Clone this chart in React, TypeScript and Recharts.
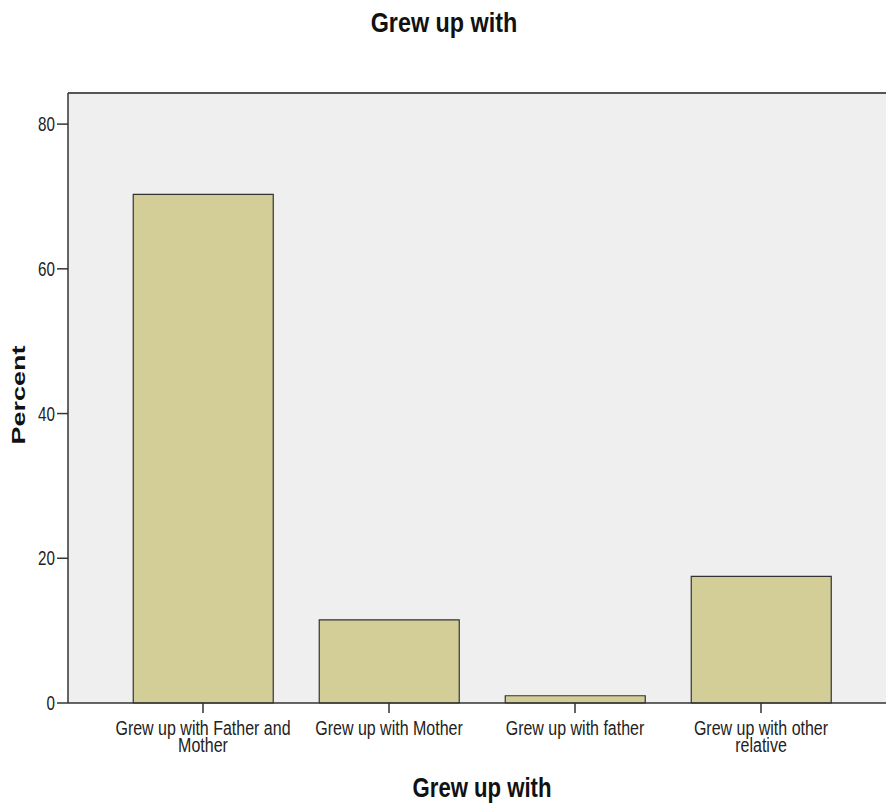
import React from "react";
import { BarChart, Bar, XAxis, YAxis, CartesianGrid, ReferenceLine } from "recharts";

const categories = [
  "Grew up with Father and Mother",
  "Grew up with Mother",
  "Grew up with father",
  "Grew up with other relative",
];
const percentValues = [70.3, 11.5, 1.0, 17.5];
const yTicks = [0, 20, 40, 60, 80];
const Y_MAX = 84.3;

const data = categories.map((c, i) => ({ name: c, percent: percentValues[i] }));

const SANS = "'Liberation Sans', Arial, sans-serif";
const SQUEEZE = 0.82;
const TICK_FONT = 19.5;
const WRAP_WIDTH = 184;

let ctx: CanvasRenderingContext2D | null = null;
function measure(s: string, size: number) {
  if (!ctx) {
    const c = document.createElement("canvas");
    ctx = c.getContext("2d");
  }
  if (!ctx) return s.length * size * 0.5;
  ctx.font = `${size}px 'Liberation Sans', Arial, sans-serif`;
  return ctx.measureText(s).width;
}

function wrap(text: string, size: number, maxW: number) {
  const words = text.split(" ");
  const lines: string[] = [];
  let cur = "";
  for (const w of words) {
    const next = cur ? cur + " " + w : w;
    if (cur && measure(next, size) * SQUEEZE > maxW) {
      lines.push(cur);
      cur = w;
    } else {
      cur = next;
    }
  }
  if (cur) lines.push(cur);
  return lines;
}

const XTick = (props: any) => {
  const { x, y, payload } = props;
  const lines = wrap(String(payload.value), TICK_FONT, WRAP_WIDTH);
  return (
    <text
      transform={`translate(${x},${y + 20}) scale(${SQUEEZE},1)`}
      textAnchor="middle"
      fill="#222"
      style={{ fontFamily: SANS, fontSize: TICK_FONT }}
    >
      {lines.map((l, i) => (
        <tspan key={i} x={0} y={i * 17}>
          {l}
        </tspan>
      ))}
    </text>
  );
};

const YTick = (props: any) => {
  const { x, y, payload } = props;
  return (
    <text
      transform={`translate(${x},${y + 7}) scale(0.76,1)`}
      textAnchor="end"
      fill="#222"
      style={{ fontFamily: SANS, fontSize: 20 }}
    >
      {payload.value}
    </text>
  );
};

export default function App() {
  return (
    <div style={{ position: "absolute", left: 0, top: 0, width: 886, height: 809, background: "#fff" }}>
      <BarChart
        width={886}
        height={809}
        data={data}
        margin={{ top: 93, right: 0, bottom: 0, left: 0 }}
        barCategoryGap="12.5%"
      >
        <CartesianGrid fill="#efefef" stroke="none" horizontal={false} vertical={false} />
        <XAxis
          dataKey="name"
          height={106}
          padding={{ left: 42, right: 32 }}
          interval={0}
          tickSize={10}
          tickLine={{ stroke: "#333", strokeWidth: 1.5 }}
          axisLine={{ stroke: "#333", strokeWidth: 1.5 }}
          tick={<XTick />}
        />
        <YAxis
          width={68}
          domain={[0, Y_MAX]}
          ticks={yTicks}
          tickSize={11}
          tickLine={{ stroke: "#333", strokeWidth: 1.5 }}
          axisLine={{ stroke: "#333", strokeWidth: 1.5 }}
          tick={<YTick />}
        />
        <ReferenceLine y={Y_MAX} stroke="#555" strokeWidth={2} />
        <Bar dataKey="percent" fill="#d3ce97" stroke="#333" strokeWidth={1.2} isAnimationActive={false} />
      </BarChart>
      <svg
        width={886}
        height={809}
        style={{ position: "absolute", left: 0, top: 0, pointerEvents: "none" }}
      >
        <text
          transform={`translate(444,32) scale(${SQUEEZE},1)`}
          textAnchor="middle"
          fill="#111"
          style={{ fontFamily: SANS, fontSize: 28.5, fontWeight: "bold" }}
        >
          Grew up with
        </text>
        <text
          transform={`translate(482,797) scale(${SQUEEZE},1)`}
          textAnchor="middle"
          fill="#111"
          style={{ fontFamily: SANS, fontSize: 27, fontWeight: "bold" }}
        >
          Grew up with
        </text>
        <text
          transform="translate(25,395) rotate(-90) scale(1.5,1)"
          textAnchor="middle"
          fill="#111"
          style={{ fontFamily: SANS, fontSize: 18, fontWeight: "bold" }}
        >
          Percent
        </text>
      </svg>
    </div>
  );
}
